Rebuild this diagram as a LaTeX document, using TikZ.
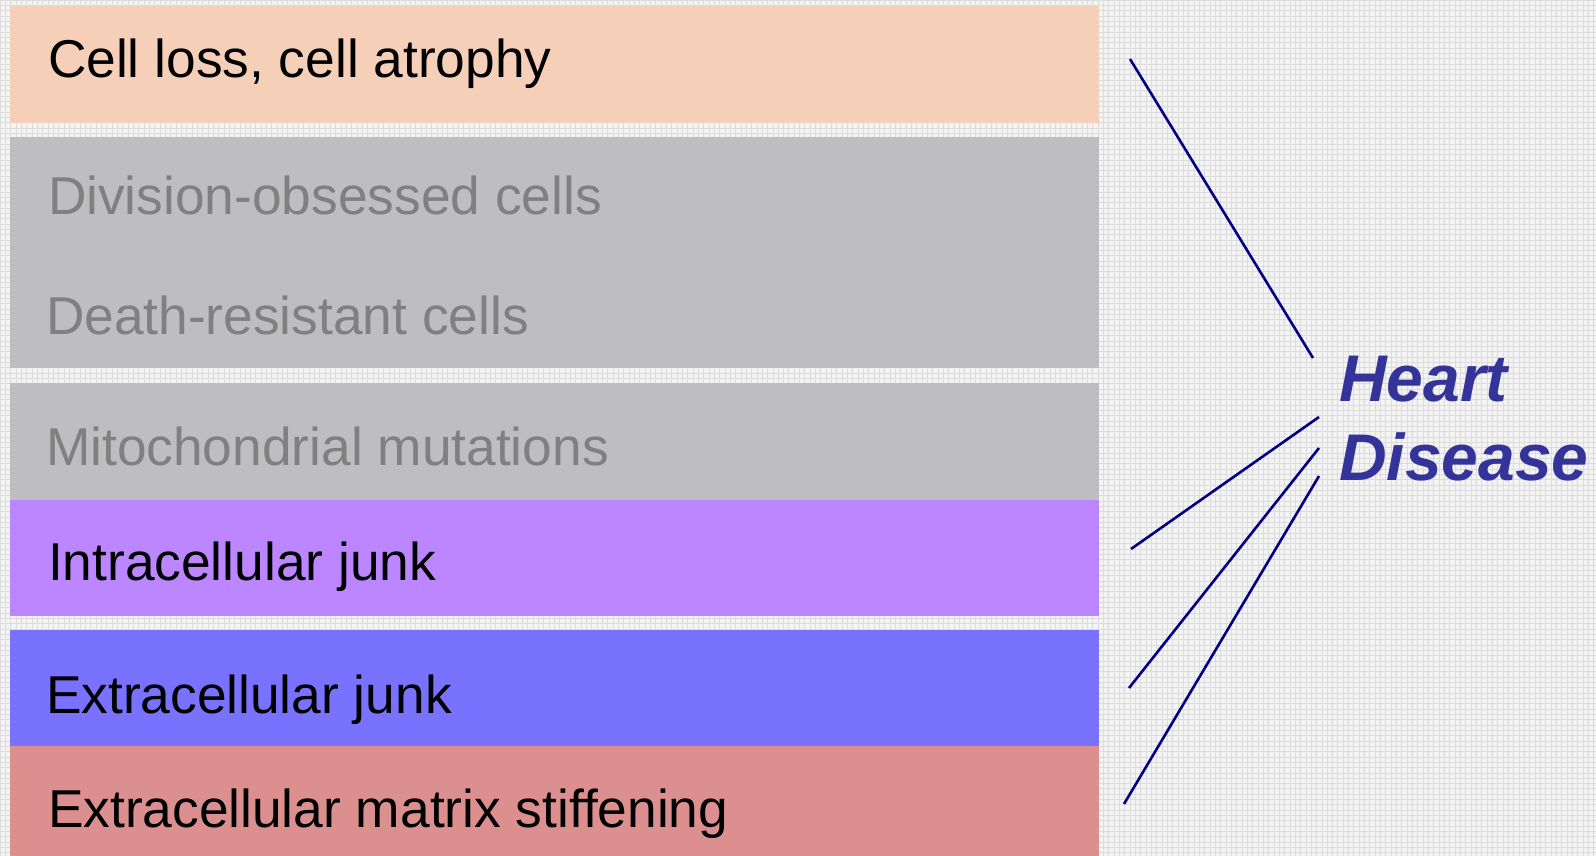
\documentclass[tikz,border=0pt]{standalone}
\usepackage{fontspec}
\setmainfont{Liberation Sans}
\definecolor{bgc}{HTML}{F3F3F3}
\definecolor{gridc}{HTML}{DCDCDC}
\definecolor{peach}{HTML}{F5CFB7}
\definecolor{grayb}{HTML}{BEBEC0}
\definecolor{purpb}{HTML}{BB86FF}
\definecolor{blueb}{HTML}{7872FF}
\definecolor{redb}{HTML}{DC8F8F}
\definecolor{txtgray}{HTML}{808080}
\definecolor{hdblue}{HTML}{333399}
\definecolor{linec}{HTML}{000080}
\tikzset{
  band/.style={rectangle, draw=none, inner sep=0, outer sep=0, anchor=north west},
  lbl/.style={anchor=base west, inner sep=0, outer sep=0, font=\fontsize{53.3}{60}\selectfont},
  conn/.style={draw=linec, line width=2.6pt},
}
\begin{document}
\begin{tikzpicture}[x=1pt,y=-1pt]
\useasboundingbox (0,0) rectangle (1596,856);
\fill[bgc] (0,0) rectangle (1596,856);
\foreach \i in {0,...,300} {\draw[gridc, line width=0.7pt] (\i*5.33,0) -- (\i*5.33,856);}
\foreach \j in {0,...,161} {\draw[gridc, line width=0.7pt] (0,\j*5.33) -- (1596,\j*5.33);}
% bands
\node[band, fill=peach, minimum width=1089pt, minimum height=117pt] (b1) at (10,6) {};
\node[band, fill=grayb, minimum width=1089pt, minimum height=231pt] (b2) at (10,137) {};
\node[band, fill=grayb, minimum width=1089pt, minimum height=117pt] (b3) at (10,383) {};
\node[band, fill=purpb, minimum width=1089pt, minimum height=116pt] (b4) at (10,500) {};
\node[band, fill=blueb, minimum width=1089pt, minimum height=117pt] (b5) at (10,630) {};
\node[band, fill=redb, minimum width=1089pt, minimum height=110pt] (b6) at (10,746) {};
% labels
\node[lbl] (t1) at (48,78) {Cell loss, cell atrophy};
\node[lbl, text=txtgray] (t2) at (48,214) {Division-obsessed cells};
\node[lbl, text=txtgray] (t3) at (46,334) {Death-resistant cells};
\node[lbl, text=txtgray] (t4) at (46,465) {Mitochondrial mutations};
\node[lbl] (t5) at (48,580) {Intracellular junk};
\node[lbl] (t6) at (46,713) {Extracellular junk};
\node[lbl] (t7) at (48,827) {Extracellular matrix stiffening};
\node[anchor=base west, inner sep=0, text=hdblue, font=\fontsize{66}{79}\selectfont\bfseries\itshape, align=left] (hd) at (1339,480) {Heart\\Disease};
% connector ends
\coordinate (a1) at (1130,59);
\coordinate (h1) at (1313,358);
\coordinate (a2) at (1131,549);
\coordinate (h2) at (1319,417);
\coordinate (a3) at (1129,688);
\coordinate (h3) at (1319,448);
\coordinate (a4) at (1124,804);
\coordinate (h4) at (1319,476);
\draw[conn] (a1) -- (h1);
\draw[conn] (a2) -- (h2);
\draw[conn] (a3) -- (h3);
\draw[conn] (a4) -- (h4);
\end{tikzpicture}
\end{document}
